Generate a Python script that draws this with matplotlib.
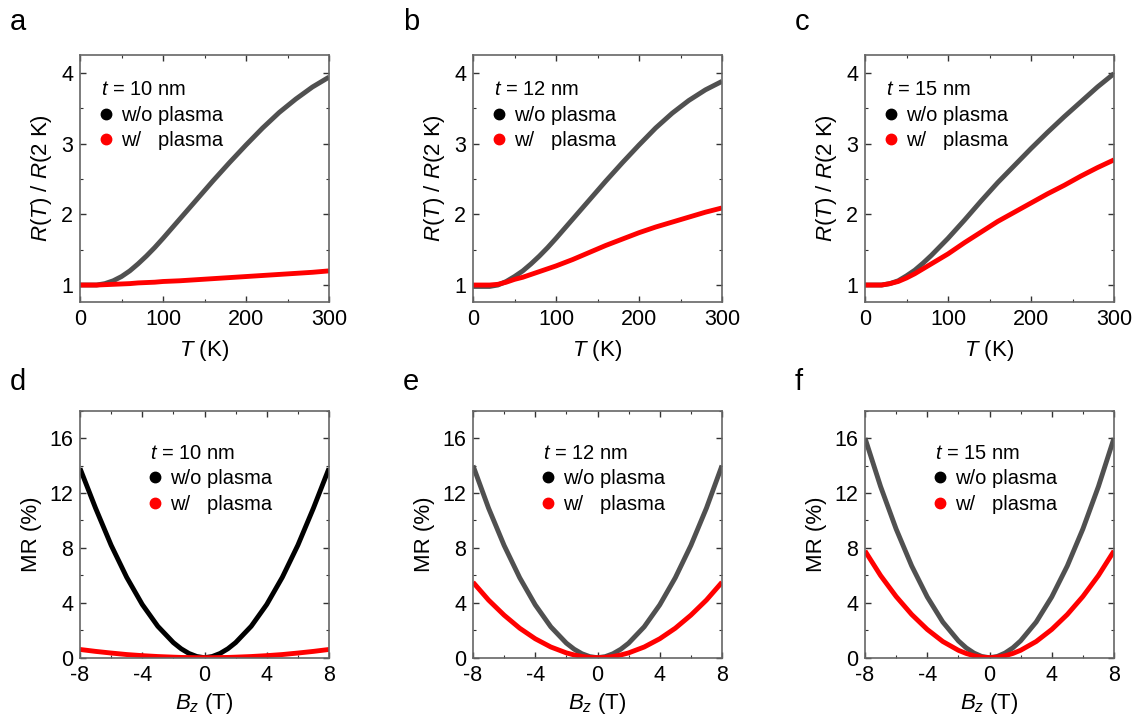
import matplotlib
matplotlib.use("Agg")
import matplotlib.pyplot as plt
from matplotlib.lines import Line2D
from matplotlib.ticker import MultipleLocator

plt.rcParams['font.family'] = ['Liberation Sans', 'DejaVu Sans']
plt.rcParams['mathtext.fontset'] = 'custom'
plt.rcParams['mathtext.rm'] = 'Liberation Sans'
plt.rcParams['mathtext.it'] = 'Liberation Sans:italic'
plt.rcParams['axes.unicode_minus'] = False

# R(T)/R(2 K) vs temperature
temp = [0, 10, 20, 30, 40, 50, 60, 70, 80, 90, 100, 120, 140, 160, 180,
        200, 220, 240, 260, 280, 300]
rt_a_wo = [1.0, 1.0, 1.0, 1.02, 1.06, 1.12, 1.2, 1.3, 1.41, 1.53, 1.66, 1.93,
           2.2, 2.47, 2.73, 2.98, 3.22, 3.44, 3.63, 3.8, 3.94]
rt_a_w = [1.0, 1.0, 1.0, 1.005, 1.01, 1.015, 1.02, 1.03, 1.035, 1.04, 1.05,
          1.06, 1.075, 1.09, 1.105, 1.12, 1.135, 1.15, 1.165, 1.18, 1.2]
rt_b_wo = [0.98, 0.98, 0.98, 1.0, 1.05, 1.12, 1.2, 1.3, 1.41, 1.53, 1.66, 1.93,
           2.2, 2.47, 2.73, 2.98, 3.22, 3.43, 3.61, 3.76, 3.88]
rt_b_w = [1.0, 1.0, 1.0, 1.01, 1.04, 1.08, 1.11, 1.15, 1.19, 1.23, 1.27, 1.36,
          1.46, 1.56, 1.65, 1.74, 1.82, 1.89, 1.96, 2.03, 2.09]
rt_c_wo = [1.0, 1.0, 1.0, 1.02, 1.06, 1.13, 1.21, 1.31, 1.42, 1.54, 1.66, 1.92,
           2.19, 2.45, 2.69, 2.93, 3.16, 3.38, 3.59, 3.8, 3.99]
rt_c_w = [1.0, 1.0, 1.0, 1.02, 1.05, 1.1, 1.16, 1.23, 1.3, 1.37, 1.44, 1.6,
          1.75, 1.9, 2.03, 2.16, 2.29, 2.41, 2.54, 2.66, 2.77]

# magnetoresistance vs field
field = [-8, -7, -6, -5, -4, -3, -2, -1.5, -1, -0.5, 0, 0.5, 1, 1.5, 2, 3, 4,
         5, 6, 7, 8]
mr_d_wo = [13.8, 10.9, 8.2, 5.86, 3.88, 2.29, 1.1, 0.65, 0.31, 0.09, 0.0, 0.09,
           0.31, 0.65, 1.1, 2.29, 3.88, 5.86, 8.2, 10.9, 13.8]
mr_d_w = [0.6, 0.46, 0.34, 0.23, 0.15, 0.085, 0.04, 0.02, 0.01, 0.0, 0.0, 0.0,
          0.01, 0.02, 0.04, 0.085, 0.15, 0.23, 0.34, 0.46, 0.6]
mr_e_wo = [14.0, 10.9, 8.18, 5.83, 3.85, 2.25, 1.06, 0.62, 0.29, 0.08, 0.0,
           0.08, 0.29, 0.62, 1.06, 2.25, 3.85, 5.83, 8.18, 10.9, 14.0]
mr_e_w = [5.5, 4.2, 3.1, 2.15, 1.38, 0.78, 0.35, 0.2, 0.09, 0.02, 0.0, 0.02,
          0.09, 0.2, 0.35, 0.78, 1.38, 2.15, 3.1, 4.2, 5.5]
mr_f_wo = [16.0, 12.48, 9.38, 6.69, 4.43, 2.6, 1.23, 0.72, 0.34, 0.09, 0.0,
           0.09, 0.34, 0.72, 1.23, 2.6, 4.43, 6.69, 9.38, 12.48, 16.0]
mr_f_w = [7.78, 5.99, 4.46, 3.15, 2.06, 1.18, 0.54, 0.31, 0.14, 0.04, 0.0,
          0.04, 0.14, 0.31, 0.54, 1.18, 2.06, 3.15, 4.46, 5.99, 7.78]

thickness = ['10', '12', '15']
letters_top = ['a', 'b', 'c']
letters_bot = ['d', 'e', 'f']

GRAY = '#505050'
RED = '#ff0000'

fig = plt.figure(figsize=(11.37, 7.18), dpi=100)
W, H = 1137, 718
col_left = [80, 473, 865]
ax_w = 249


def style_axes(ax):
    for s in ax.spines.values():
        s.set_color('#666666')
        s.set_linewidth(1.2)
    ax.tick_params(which='both', direction='in', top=True, right=True,
                   color='#333333', labelsize=15.5)
    ax.tick_params(which='major', length=4, width=1)
    ax.tick_params(which='minor', length=2.5, width=0.8)
    ax.tick_params(axis='x', pad=5)
    ax.tick_params(axis='y', pad=5)


def add_key(ax, t, x, y):
    handles = [Line2D([], [], marker='o', ls='', color='black', ms=7.5),
               Line2D([], [], marker='o', ls='', color=RED, ms=7.5)]
    leg = ax.legend(handles, ['w/o plasma', 'w/   plasma'],
                    title='$t$ = %s nm' % t, loc='upper left',
                    bbox_to_anchor=(x, y), frameon=False, fontsize=14.5,
                    title_fontsize=14.5, handlelength=0.5, handletextpad=0.5,
                    labelspacing=0.32, borderaxespad=0, borderpad=0,
                    alignment='left')
    return leg


top_series = [(rt_a_wo, rt_a_w), (rt_b_wo, rt_b_w), (rt_c_wo, rt_c_w)]
for i, (wo, w) in enumerate(top_series):
    ax = fig.add_axes([col_left[i] / W, 1 - 302 / H, ax_w / W, 247.5 / H])
    ax.plot(temp, wo, color=GRAY, lw=3.5, solid_capstyle='butt')
    ax.plot(temp, w, color=RED, lw=3.5, solid_capstyle='butt')
    ax.set_xlim(0, 300)
    ax.set_ylim(0.76, 4.26)
    ax.xaxis.set_major_locator(MultipleLocator(100))
    ax.xaxis.set_minor_locator(MultipleLocator(50))
    ax.yaxis.set_major_locator(MultipleLocator(1))
    ax.yaxis.set_minor_locator(MultipleLocator(0.5))
    style_axes(ax)
    ax.set_xlabel('$T$ (K)', fontsize=16, labelpad=6)
    ax.set_ylabel('$R$($T$) / $R$(2 K)', fontsize=16, labelpad=5)
    add_key(ax, thickness[i], 0.085, 0.895)
    fig.text((col_left[i] - 70) / W, 1 - 30 / H, letters_top[i], fontsize=21)

bot_series = [(mr_d_wo, mr_d_w), (mr_e_wo, mr_e_w), (mr_f_wo, mr_f_w)]
for i, (wo, w) in enumerate(bot_series):
    ax = fig.add_axes([col_left[i] / W, 1 - 657.7 / H, ax_w / W, 247 / H])
    c = 'black' if i == 0 else GRAY
    ax.plot(field, wo, color=c, lw=3.5, solid_capstyle='butt')
    ax.plot(field, w, color=RED, lw=3.5, solid_capstyle='butt')
    ax.set_xlim(-8, 8)
    ax.set_ylim(0, 18)
    ax.xaxis.set_major_locator(MultipleLocator(4))
    ax.xaxis.set_minor_locator(MultipleLocator(2))
    ax.yaxis.set_major_locator(MultipleLocator(4))
    ax.yaxis.set_minor_locator(MultipleLocator(2))
    style_axes(ax)
    ax.set_xlabel('$B_z$ (T)', fontsize=16, labelpad=4)
    ax.set_ylabel('MR (%)', fontsize=16, labelpad=5)
    add_key(ax, thickness[i], 0.28, 0.865)
    fig.text((col_left[i] - 70) / W, 1 - 390 / H, letters_bot[i], fontsize=21)

fig.savefig('out.png', dpi=100)
